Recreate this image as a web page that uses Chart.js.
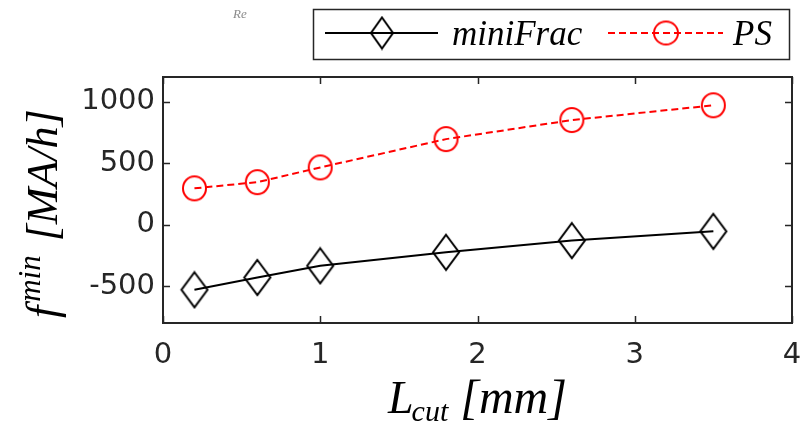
<!DOCTYPE html>
<html><head><meta charset="utf-8">
<script src="https://cdn.jsdelivr.net/npm/chart.js@4/dist/chart.umd.min.js"></script>
<style>html,body{margin:0;padding:0;background:#fff}#wrap{width:805px;height:422px;position:relative}</style>
</head><body><div id="wrap"><canvas id="c" width="805" height="422"></canvas></div>
<script>
// ---- data ----
const lcut = [0.2, 0.6, 1.0, 1.8, 2.6, 3.5];
const miniFrac = [-530, -430, -335, -225, -130, -55];
const ps = [295, 345, 465, 695, 850, 970];
const xTicks = [0, 1, 2, 3, 4];
const yTicks = [-500, 0, 500, 1000];
const seriesNames = ['miniFrac', 'PS'];

// ---- marker images ----
function diamondImg(w, h, lw, color) {
  const c = document.createElement('canvas');
  c.width = w + lw * 2; c.height = h + lw * 2;
  const g = c.getContext('2d');
  const cx = c.width / 2, cy = c.height / 2;
  g.strokeStyle = color; g.lineWidth = lw;
  g.beginPath();
  g.moveTo(cx, cy - h / 2); g.lineTo(cx + w / 2, cy); g.lineTo(cx, cy + h / 2); g.lineTo(cx - w / 2, cy); g.closePath();
  g.stroke();
  return c;
}
function ellipseImg(w, h, lw, color) {
  const c = document.createElement('canvas');
  c.width = w + lw * 2; c.height = h + lw * 2;
  const g = c.getContext('2d');
  g.strokeStyle = color; g.lineWidth = lw;
  g.beginPath();
  g.ellipse(c.width / 2, c.height / 2, w / 2, h / 2, 0, 0, Math.PI * 2);
  g.stroke();
  return c;
}
const dImg = diamondImg(26, 35, 2, '#000');
const oImg = ellipseImg(23, 24, 2, '#ff0000');
const dImgL = diamondImg(22, 31, 2, '#000');
const oImgL = ellipseImg(24, 23, 2, '#ff0000');

const AXC = '#262626';
const SERIF = '"Liberation Serif", "DejaVu Serif", serif';

const framePlugin = {
  id: 'frame',
  afterDraw(chart) {
    const ctx = chart.ctx, a = chart.chartArea;
    const xs = chart.scales.x, ys = chart.scales.y;
    ctx.save();
    ctx.strokeStyle = AXC; ctx.lineWidth = 2;
    ctx.strokeRect(a.left, a.top, a.right - a.left, a.bottom - a.top);
    const tl = 7;
    ctx.lineWidth = 1.5;
    ctx.beginPath();
    xTicks.forEach(v => {
      const px = Math.round(xs.getPixelForValue(v)) + 0.5;
      ctx.moveTo(px, a.bottom); ctx.lineTo(px, a.bottom - tl);
      ctx.moveTo(px, a.top); ctx.lineTo(px, a.top + tl);
    });
    yTicks.forEach(v => {
      const py = Math.round(ys.getPixelForValue(v)) + 0.5;
      ctx.moveTo(a.left, py); ctx.lineTo(a.left + tl, py);
      ctx.moveTo(a.right, py); ctx.lineTo(a.right - tl, py);
    });
    ctx.stroke();

    // axis titles
    ctx.fillStyle = '#000';
    ctx.textBaseline = 'alphabetic';
    ctx.textAlign = 'left';
    let x = 388, y = 413;
    ctx.font = 'italic 46px ' + SERIF;
    ctx.fillText('L', x, y); x += ctx.measureText('L').width - 2;
    ctx.font = 'italic 30px ' + SERIF;
    ctx.fillText('cut', x, y + 8); x += ctx.measureText('cut').width + 12;
    ctx.font = 'italic 48px ' + SERIF;
    ctx.fillText('[mm]', x, y);

    // y title: f^min [MA/h] rotated
    ctx.save();
    ctx.translate(57, 318);
    ctx.rotate(-Math.PI / 2);
    let t = 0;
    ctx.font = 'italic 44px ' + SERIF;
    ctx.fillText('f', t, 0); t += ctx.measureText('f').width + 4;
    ctx.font = 'italic 31px ' + SERIF;
    ctx.fillText('min', t, -17); t += ctx.measureText('min').width + 14;
    ctx.font = 'italic 44px ' + SERIF;
    ctx.fillText('[MA/h]', t, 0);
    ctx.restore();

    // faint "Re" fragment (left of the legend)
    ctx.fillStyle = '#8a8a8a';
    ctx.font = 'italic 13px ' + SERIF;
    ctx.fillText('Re', 233, 18);

    // legend
    const lx = 313, ly = 9, lw = 476, lh = 50;
    ctx.fillStyle = '#fff';
    ctx.fillRect(lx, ly, lw, lh);
    ctx.strokeStyle = AXC; ctx.lineWidth = 1.5;
    ctx.strokeRect(lx + 0.5, ly + 0.5, lw, lh);
    const my = 33;
    const d0 = chart.data.datasets[0], d1 = chart.data.datasets[1];
    ctx.strokeStyle = d0.borderColor; ctx.lineWidth = d0.borderWidth; ctx.setLineDash([]);
    ctx.beginPath(); ctx.moveTo(325, my); ctx.lineTo(438, my); ctx.stroke();
    ctx.drawImage(dImgL, 382 - dImgL.width / 2, my - dImgL.height / 2);
    ctx.fillStyle = '#000';
    ctx.font = 'italic 35px ' + SERIF;
    ctx.fillText(d0.label, 452, 45);
    ctx.strokeStyle = d1.borderColor; ctx.lineWidth = d1.borderWidth; ctx.setLineDash(d1.borderDash);
    ctx.beginPath(); ctx.moveTo(608, my); ctx.lineTo(723, my); ctx.stroke();
    ctx.setLineDash([]);
    ctx.drawImage(oImgL, 666 - oImgL.width / 2, my - oImgL.height / 2);
    ctx.fillText(d1.label, 733, 45);
    ctx.restore();
  }
};

new Chart(document.getElementById('c'), {
  type: 'line',
  data: {
    datasets: [
      {
        label: seriesNames[0],
        data: lcut.map((v, i) => ({ x: v, y: miniFrac[i] })),
        borderColor: '#000', borderWidth: 2, pointStyle: dImg, pointRadius: 14, fill: false, tension: 0
      },
      {
        label: seriesNames[1],
        data: lcut.map((v, i) => ({ x: v, y: ps[i] })),
        borderColor: '#ff0000', borderWidth: 2, borderDash: [7, 4], pointStyle: oImg, pointRadius: 13, fill: false, tension: 0
      }
    ]
  },
  options: {
    responsive: false,
    animation: false,
    events: [],
    layout: { autoPadding: false, padding: { left: 0, top: 77, right: 13, bottom: 0 } },
    plugins: { legend: { display: false }, tooltip: { enabled: false }, title: { display: false } },
    scales: {
      x: {
        type: 'linear', min: 0, max: 4,
        afterBuildTicks: s => { s.ticks = xTicks.map(v => ({ value: v })); },
        afterFit: s => { s.height = 99; s.paddingLeft = 0; s.paddingRight = 0; },
        grid: { display: false, drawTicks: false },
        border: { display: false },
        ticks: { color: AXC, font: { family: '"DejaVu Sans", sans-serif', size: 29 }, padding: 15, maxRotation: 0 }
      },
      y: {
        type: 'linear', min: -800, max: 1200,
        afterBuildTicks: s => { s.ticks = yTicks.map(v => ({ value: v })); },
        afterFit: s => { s.width = 163; s.paddingTop = 0; s.paddingBottom = 0; },
        grid: { display: false, drawTicks: false },
        border: { display: false },
        ticks: { color: AXC, font: { family: '"DejaVu Sans", sans-serif', size: 29 }, padding: 8, callback: v => String(v) }
      }
    }
  },
  plugins: [framePlugin]
});
</script>
</body></html>
